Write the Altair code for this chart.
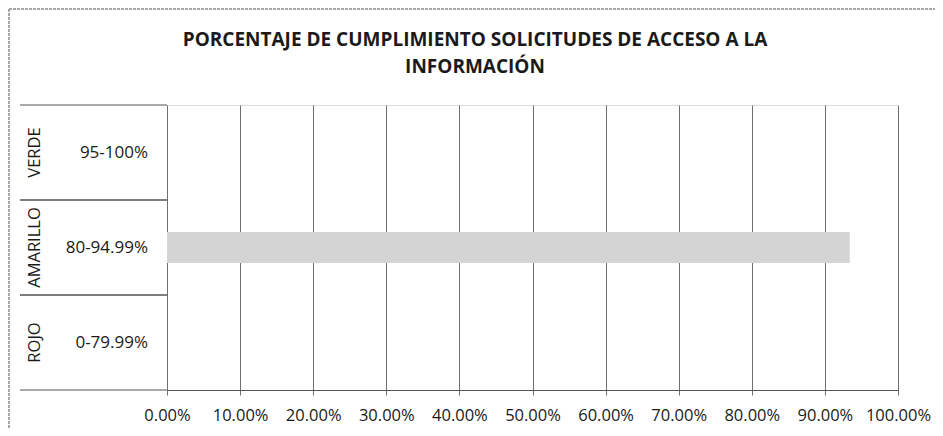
import altair as alt
import pandas as pd

outer = ["VERDE", "AMARILLO", "ROJO"]
inner = ["95-100%", "80-94.99%", "0-79.99%"]
values = [0.0, 0.934, 0.0]
tick_values = [0.0, 0.1, 0.2, 0.3, 0.4, 0.5, 0.6, 0.7, 0.8, 0.9, 1.0]
title_lines = ["PORCENTAJE DE CUMPLIMIENTO SOLICITUDES DE ACCESO A LA", "INFORMACIÓN"]

df = pd.DataFrame({"outer": outer, "inner": inner, "value": values})
title_df = pd.DataFrame({"line": title_lines})

FONT = "Open Sans"
yscale = alt.Scale(domain=inner, paddingInner=0, paddingOuter=0)
xscale = alt.Scale(domain=[0, 1], nice=False)

bars = alt.Chart(df).mark_bar(size=31, color="#d4d4d4").encode(
    x=alt.X("value:Q", scale=xscale,
            axis=alt.Axis(values=tick_values, format=".2%", title=None, grid=True,
                          gridColor="#6f6f6f", gridWidth=1, domain=True, domainColor="#555555",
                          ticks=True, tickSize=5, tickColor="#6f6f6f",
                          labelFont=FONT, labelFontSize=16.5, labelColor="#1a1a1a",
                          labelPadding=12, labelFlush=False)),
    y=alt.Y("inner:N", scale=yscale, axis=None),
)

inner_text = alt.Chart(df).mark_text(align="right", baseline="middle", font=FONT,
                                     fontSize=17, color="#1a1a1a").encode(
    y=alt.Y("inner:N", scale=yscale, axis=None),
    x=alt.value(-19),
    text="inner:N",
)

outer_text = alt.Chart(df).mark_text(align="center", baseline="middle", font=FONT,
                                     fontSize=16.5, angle=270, color="#1a1a1a").encode(
    y=alt.Y("inner:N", scale=yscale, axis=None),
    x=alt.value(-132),
    text="outer:N",
)

sep_top = alt.Chart(df).mark_rule(color="#555555", strokeWidth=1).encode(
    y=alt.Y("inner:N", scale=yscale, axis=None, bandPosition=0),
    x=alt.value(-147), x2=alt.value(0),
)
sep_bot = alt.Chart(df).mark_rule(color="#555555", strokeWidth=1).encode(
    y=alt.Y("inner:N", scale=yscale, axis=None, bandPosition=1),
    x=alt.value(-147), x2=alt.value(0),
)

frame_left = alt.Chart(df).mark_rule(color="#9a9a9a", strokeWidth=1, strokeDash=[3, 1]).encode(
    x=alt.value(-158), y=alt.value(-96), y2=alt.value(323))
frame_top = alt.Chart(df).mark_rule(color="#9a9a9a", strokeWidth=1, strokeDash=[3, 1]).encode(
    x=alt.value(-158), x2=alt.value(768), y=alt.value(-96))

title1 = alt.Chart(title_df).transform_filter(
    alt.datum.line == title_lines[0]
).mark_text(align="center", baseline="alphabetic", font=FONT, fontSize=19,
            fontWeight="bold", color="#1a1a1a").encode(
    x=alt.value(308), y=alt.value(-59), text="line:N")
title2 = alt.Chart(title_df).transform_filter(
    alt.datum.line == title_lines[1]
).mark_text(align="center", baseline="alphabetic", font=FONT, fontSize=19,
            fontWeight="bold", color="#1a1a1a").encode(
    x=alt.value(308), y=alt.value(-32), text="line:N")

chart = alt.layer(frame_left, frame_top, bars, sep_top, sep_bot, inner_text, outer_text,
                  title1, title2).properties(
    width=731, height=285,
    padding={"left": 159, "top": 97, "right": 37, "bottom": 38},
    autosize=alt.AutoSizeParams(type="none"),
).configure_view(stroke=None).configure(background="white")

chart.save("out.html", embed_options={"renderer": "svg", "actions": False})
